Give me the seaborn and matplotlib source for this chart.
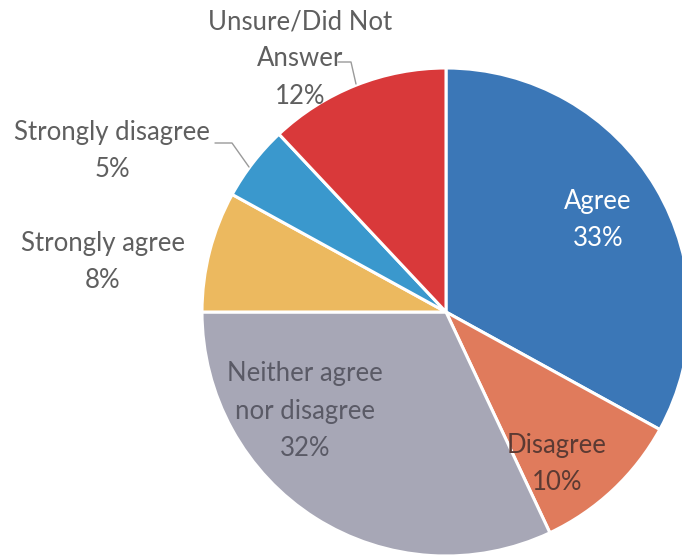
import matplotlib
matplotlib.use("Agg")
import matplotlib.pyplot as plt
import seaborn as sns

# Survey response shares (percent), clockwise from 12 o'clock
categories = ["Agree", "Disagree", "Neither agree\nnor disagree",
              "Strongly agree", "Strongly disagree", "Unsure/Did Not\nAnswer"]
shares = [33, 10, 32, 8, 5, 12]
colors = ["#3b77b7", "#e07b5c", "#a7a7b6", "#ecb95f", "#3a98cd", "#d9393a"]

sns.set_theme(style="white")
plt.rcParams["font.family"] = ["Lato", "DejaVu Sans"]

W, H = 682, 560
fig = plt.figure(figsize=(W / 100, H / 100), dpi=100)
ax = fig.add_axes([0, 0, 1, 1])

cx, cy, R = 446, H - 312, 244
wedges, _ = ax.pie(shares, colors=colors, startangle=90, counterclock=False,
                   center=(cx, cy), radius=R,
                   wedgeprops=dict(edgecolor="white", linewidth=2.2),
                   frame=True)
ax.set_xlim(0, W)
ax.set_ylim(0, H)
ax.set_aspect("equal")
ax.axis("off")

fs = 18.5
grey = "#5f5f5f"

def lab(i, x, y, color, **kw):
    ax.text(x, H - y, f"{categories[i]}\n{shares[i]}%", ha="center", va="center",
            multialignment="center", fontsize=fs, color=color, linespacing=1.6, **kw)

lab(0, 598, 220, "white")
lab(1, 557, 464, "#5b3a33")
lab(2, 305, 411, "#5a5a66")
lab(3, 103, 262, grey)
lab(4, 112, 151, grey)
lab(5, 300, 59, grey)

# leader lines for the small slices labelled outside the pie
leader = dict(color="#9a9a9a", linewidth=1.0)
ax.plot([215, 232, 249], [H - 143, H - 143, H - 167], **leader)
ax.plot([338, 351, 356], [H - 62, H - 62, H - 84], **leader)

fig.savefig("out.png", dpi=100)
